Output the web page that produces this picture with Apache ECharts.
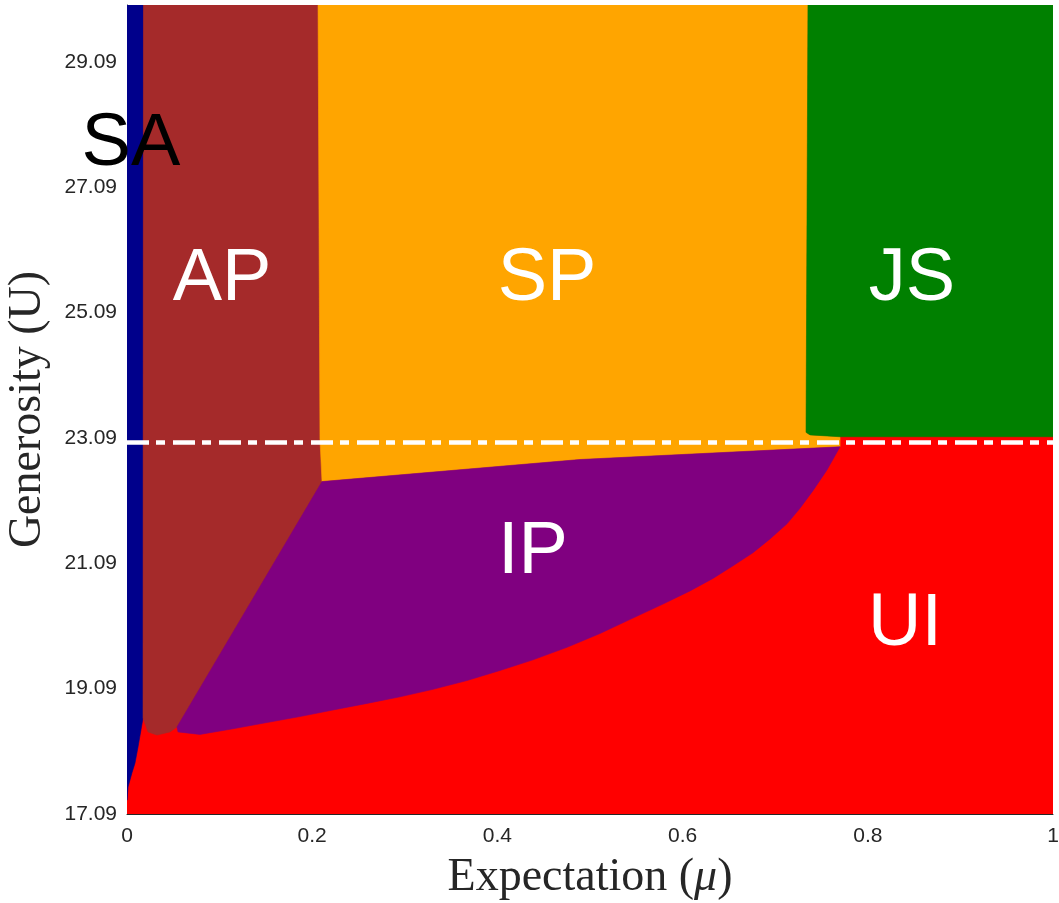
<!DOCTYPE html>
<html><head><meta charset="utf-8">
<script src="https://cdn.jsdelivr.net/npm/echarts@6/dist/echarts.min.js"></script>
<style>html,body{margin:0;padding:0;background:#fff}#c{width:1059px;height:903px}</style>
</head><body><div id="c"></div>
<script>
// Axis ranges and ticks
const X_MIN = 0, X_MAX = 1, Y_MIN = 17.09, Y_MAX = 30;
const xTickValues = [0, 0.2, 0.4, 0.6, 0.8, 1];
const xTickLabels = ['0', '0.2', '0.4', '0.6', '0.8', '1'];
const yTickValues = [17.09, 19.09, 21.09, 23.09, 25.09, 27.09, 29.09];
const yTickLabels = ['17.09', '19.09', '21.09', '23.09', '25.09', '27.09', '29.09'];

// Region boundaries (expectation mu, generosity U)
const UI = [[0,17.09],[1,17.09],[1,30],[0,30]];
const SA = [[0,30],[0.0178,30],[0.0173,18.62],[0.0119,18.16],[0.0086,17.90],[0.0054,17.75],[0.0011,17.52],[0,17.31]];
const AP = [[0.0178,30],[0.2063,30],[0.2084,23.07],[0.2106,22.395],[0.054,18.48],[0.0464,18.40],[0.0324,18.35],[0.0227,18.40],[0.0173,18.62]];
const SP = [[0.2063,30],[0.7354,30],[0.7333,23.18],[0.7376,23.14],[0.770,23.11],[0.770,22.95],[0.4892,22.747],[0.2106,22.395],[0.2084,23.07]];
const JS = [[0.7354,30],[1,30],[1,23.11],[0.770,23.11],[0.7376,23.14],[0.7333,23.18]];
const IP = [[0.2106,22.395],[0.4892,22.747],[0.770,22.95],[0.7559,22.58],[0.7408,22.25],[0.7268,21.97],[0.7127,21.72],[0.6944,21.48],[0.676,21.26],[0.6544,21.05],[0.6328,20.85],[0.608,20.65],[0.5788,20.44],[0.544,20.2],[0.5108,19.97],[0.4752,19.75],[0.4384,19.55],[0.4028,19.38],[0.3672,19.22],[0.3305,19.08],[0.2948,18.96],[0.2592,18.855],[0.2225,18.75],[0.1868,18.645],[0.1512,18.55],[0.1145,18.45],[0.0788,18.36],[0.0551,18.40],[0.054,18.48]];
const regionNames = ['UI','SA','AP','SP','JS','IP'];
const regionColors = ['#ff0000','#00008b','#a52a2a','#ffa500','#008000','#800080'];

// Region text labels
const labelNames = ['SA','AP','SP','JS','IP','UI'];
const labelX = [0.0043, 0.1026, 0.4536, 0.8477, 0.4384, 0.8402];
const labelY = [27.78, 25.62, 25.62, 25.62, 21.26, 20.11];
const labelColors = ['#000000','#ffffff','#ffffff','#ffffff','#ffffff','#ffffff'];

// Dashed threshold line
const thresholdX = [0, 1];
const thresholdU = 23.02;

const regions = [UI, SA, AP, SP, JS, IP];

const chart = echarts.init(document.getElementById('c'), null, {renderer: 'canvas'});
const axisColor = '#262626';

chart.setOption({
  animation: false,
  backgroundColor: '#ffffff',
  grid: {left: 127, right: 6, top: 5, bottom: 89, containLabel: false, outerBoundsMode: 'none'},
  xAxis: {
    type: 'value', min: X_MIN, max: X_MAX, interval: 0.2,
    axisLine: {show: true, onZero: false, lineStyle: {color: axisColor, width: 1}},
    axisTick: {show: false},
    splitLine: {show: false},
    axisLabel: {
      color: axisColor, fontSize: 21, fontFamily: 'Liberation Sans', margin: 12,
      formatter: v => { const i = xTickValues.findIndex(t => Math.abs(t - v) < 1e-6); return i >= 0 ? xTickLabels[i] : ''; }
    },
    name: 'Expectation ({m|μ})',
    nameLocation: 'middle', nameGap: 41,
    nameTextStyle: {color: axisColor, fontSize: 46, fontFamily: 'Liberation Serif',
      rich: {m: {fontStyle: 'italic', fontSize: 46, fontFamily: 'Liberation Serif', color: axisColor}}}
  },
  yAxis: {
    type: 'value', min: Y_MIN, max: Y_MAX,
    axisLine: {show: true, onZero: false, lineStyle: {color: axisColor, width: 1}},
    axisTick: {show: false, customValues: yTickValues},
    splitLine: {show: false},
    axisLabel: {
      color: axisColor, fontSize: 21, fontFamily: 'Liberation Sans', margin: 10,
      customValues: yTickValues,
      formatter: v => { const i = yTickValues.findIndex(t => Math.abs(t - v) < 1e-6); return i >= 0 ? yTickLabels[i] : ''; }
    },
    name: 'Generosity (U)',
    nameLocation: 'middle', nameGap: 76,
    nameTextStyle: {color: axisColor, fontSize: 46, fontFamily: 'Liberation Serif'}
  },
  series: [
    {
      type: 'custom', name: 'regions', coordinateSystem: 'cartesian2d', clip: true, z: 1,
      encode: {x: 0, y: 1},
      data: regions.map((r, i) => [0.5, 20, i]),
      renderItem: function (params, api) {
        const idx = api.value(2);
        const pts = regions[idx].map(p => api.coord(p));
        return {
          type: 'polygon', shape: {points: pts},
          style: {fill: regionColors[idx], stroke: regionColors[idx], lineWidth: 0.6}
        };
      },
      silent: true
    },
    {
      type: 'line', name: 'threshold', z: 3, symbol: 'none', silent: true,
      data: thresholdX.map(x => [x, thresholdU]),
      lineStyle: {color: '#ffffff', width: 4.5, type: [22, 7, 9, 8], opacity: 1}
    },
    {
      type: 'scatter', name: 'labels', z: 4, symbolSize: 0, silent: true,
      itemStyle: {opacity: 1},
      data: labelNames.map((n, i) => ({
        name: n, value: [labelX[i], labelY[i]],
        label: {color: labelColors[i]}
      })),
      label: {
        show: true, position: 'inside', formatter: p => p.name, opacity: 1,
        fontSize: 74, fontFamily: 'Liberation Sans', textBorderWidth: 0
      }
    }
  ]
});
</script>
</body></html>
